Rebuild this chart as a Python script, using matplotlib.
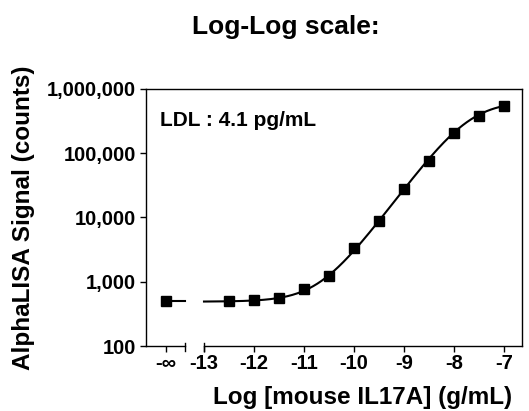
import numpy as np
import matplotlib.pyplot as plt
from matplotlib.ticker import FixedLocator, FuncFormatter

plt.rcParams['font.family'] = ['Liberation Sans', 'DejaVu Sans']
plt.rcParams['font.weight'] = 'bold'

# measured points: log concentration (g/mL) and signal (counts)
log_conc = [-12.5, -12.0, -11.5, -11.0, -10.5, -10.0, -9.5, -9.0, -8.5, -8.0, -7.5, -7.0]
signal = [500, 520, 565, 760, 1230, 3300, 8700, 27700, 76400, 209000, 380000, 543000]
blank_signal = 500  # zero concentration, shown at "-inf"

# 4PL fit
fit_bottom = 490
fit_top = 650000
fit_logec50 = -7.69
fit_hill = 1.04

x_ticks = [-13, -12, -11, -10, -9, -8, -7]
y_ticks = [100, 1000, 10000, 100000, 1000000]

# broken x axis layout (in data units)
inf_pos = -13.76
break_left = -13.38
x_lo, x_hi = -14.16, -6.64


def four_pl(x):
    return fit_bottom + (fit_top - fit_bottom) / (1 + 10 ** ((fit_logec50 - x) * fit_hill))


fig = plt.figure(figsize=(5.29, 4.11), dpi=100)
ax = fig.add_axes([146 / 529, 1 - 346 / 411, 376 / 529, 257 / 411])

xx = np.linspace(-13, -7, 300)
ax.plot(xx, four_pl(xx), color='black', lw=1.5, zorder=2)
ax.plot([inf_pos, break_left], [blank_signal, blank_signal], color='black', lw=1.5, zorder=2)
ax.plot(log_conc, signal, 's', color='black', ms=7.5, zorder=3)
ax.plot([inf_pos], [blank_signal], 's', color='black', ms=7.5, zorder=3)

ax.set_yscale('log')
ax.set_ylim(100, 1000000)
ax.set_xlim(x_lo, x_hi)
ax.yaxis.set_major_locator(FixedLocator(y_ticks))
ax.yaxis.set_minor_locator(FixedLocator([]))
ax.yaxis.set_major_formatter(FuncFormatter(lambda v, p: f'{int(v):,}'))
ax.set_xticks([inf_pos] + x_ticks)
ax.set_xticklabels(['-\u221e'] + [str(t) for t in x_ticks])

for s in ax.spines.values():
    s.set_linewidth(1.0)
ax.spines['bottom'].set_visible(False)

# bottom axis in two pieces with small caps at the break
xt = ax.get_xaxis_transform()
ax.plot([x_lo, break_left], [0, 0], color='black', lw=1.0, transform=xt, clip_on=False)
ax.plot([-13, x_hi], [0, 0], color='black', lw=1.0, transform=xt, clip_on=False)
for bx in (break_left, -13):
    ax.plot([bx, bx], [-0.02, 0.012], color='black', lw=1.0, transform=xt, clip_on=False)

ax.tick_params(axis='both', direction='out', length=4, width=1.0, labelsize=14.5)
ax.tick_params(axis='x', pad=2)
ax.tick_params(axis='y', pad=3)
for lab in ax.get_xticklabels() + ax.get_yticklabels():
    lab.set_fontweight('bold')

ax.text(0.037, 0.879, 'LDL : 4.1 pg/mL', transform=ax.transAxes, fontsize=15,
        fontweight='bold', ha='left', va='center')

ax.text(-0.327, 0.5, 'AlphaLISA Signal (counts)', transform=ax.transAxes, rotation=90,
        fontsize=17.5, fontweight='bold', ha='center', va='center')
ax.text(0.577, -0.156, 'Log [mouse IL17A] (g/mL)', transform=ax.transAxes,
        fontsize=17.5, fontweight='bold', ha='center', va='top')

fig.text(286 / 529, 1 - 27 / 411, 'Log-Log scale:', fontsize=19, fontweight='bold',
         ha='center', va='center')

fig.savefig('out.png', dpi=100)
